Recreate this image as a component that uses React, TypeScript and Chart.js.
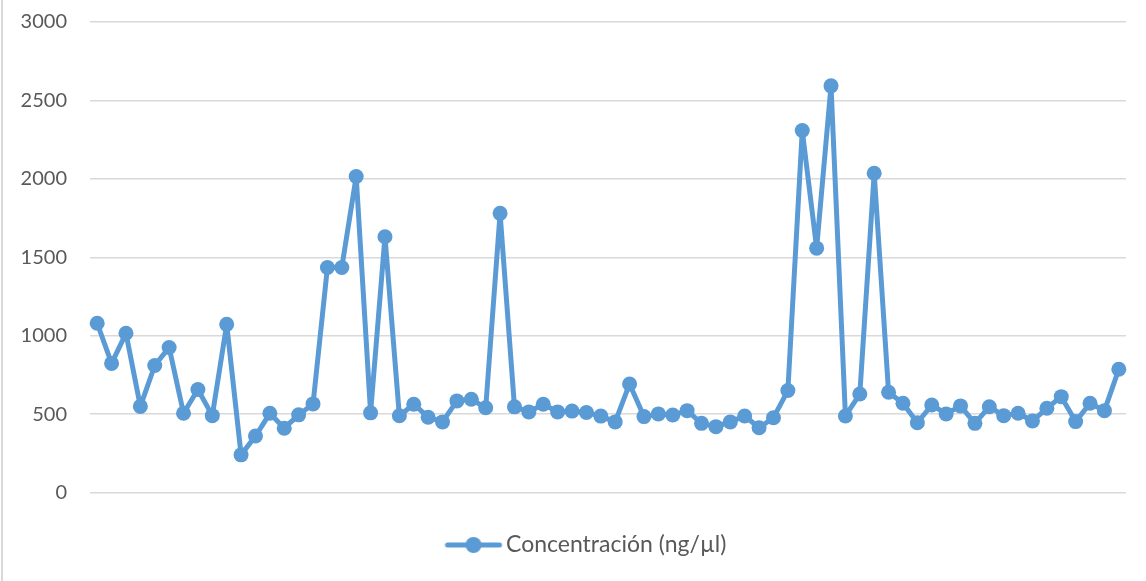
import React, { useEffect, useRef } from "react";
import { Chart, registerables } from "chart.js";

Chart.register(...registerables);

const samples: string[] = [
  "1", "2", "3", "4", "5", "6", "7", "8", "9", "10", "11", "12",
  "13", "14", "15", "16", "17", "18", "19", "20", "21", "22", "23", "24",
  "25", "26", "27", "28", "29", "30", "31", "32", "33", "34", "35", "36",
  "37", "38", "39", "40", "41", "42", "43", "44", "45", "46", "47", "48",
  "49", "50", "51", "52", "53", "54", "55", "56", "57", "58", "59", "60",
  "61", "62", "63", "64", "65", "66", "67", "68", "69", "70", "71", "72",
];

const concentracion: number[] = [
  1079, 823, 1015, 549, 810, 925, 505, 657, 490, 1072, 240, 360,
  505, 410, 495, 565, 1435, 1435, 2015, 508, 1631, 489, 563, 480,
  450, 584, 595, 540, 1780, 546, 514, 563, 514, 519, 510, 487,
  450, 692, 484, 501, 494, 522, 441, 420, 450, 488, 413, 477,
  650, 2308, 1558, 2593, 488, 628, 2036, 639, 569, 445, 558, 501,
  552, 441, 547, 490, 505, 456, 537, 611, 452, 569, 522, 786,
];

const seriesName = "Concentración (ng/µl)";
const yTicksMin = 0;
const yTicksMax = 3000;
const yTicksStep = 500;

const BLUE = "#5B9BD5";
const FONT = "Lato, 'Open Sans', sans-serif";
const LEGEND_SIZE = 23;

export default function App() {
  const canvasRef = useRef<HTMLCanvasElement | null>(null);

  useEffect(() => {
    const canvas = canvasRef.current;
    if (!canvas) return;

    // legend layout: glyph centre at 473.5, text starting at 506
    const mc = document.createElement("canvas").getContext("2d");
    let textW = 221;
    if (mc) {
      mc.font = `${LEGEND_SIZE}px ${FONT}`;
      textW = mc.measureText(seriesName).width;
    }
    const half = LEGEND_SIZE / 2;
    const legendL = 0;
    const legendR = 1126;
    const boxW = 2 * 506 - legendL - legendR - half + textW;
    const imgCenter = (legendL + legendR - half - textW) / 2;
    const off = 473.5 - imgCenter;

    const marker = document.createElement("canvas");
    const W = Math.ceil(2 * (Math.abs(off) + 30));
    marker.width = W;
    marker.height = 18;
    const mctx = marker.getContext("2d");
    if (mctx) {
      const cx = W / 2 + off;
      mctx.strokeStyle = BLUE;
      mctx.lineWidth = 5;
      mctx.lineCap = "round";
      mctx.beginPath();
      mctx.moveTo(cx - 26, 9);
      mctx.lineTo(cx + 26, 9);
      mctx.stroke();
      mctx.fillStyle = BLUE;
      mctx.beginPath();
      mctx.arc(cx, 9, 8, 0, Math.PI * 2);
      mctx.fill();
    }

    const chart = new Chart(canvas, {
      type: "line",
      data: {
        labels: samples,
        datasets: [
          {
            label: seriesName,
            data: concentracion,
            borderColor: BLUE,
            backgroundColor: BLUE,
            borderWidth: 5,
            borderJoinStyle: "round",
            pointRadius: 7.5,
            pointBackgroundColor: BLUE,
            pointBorderColor: BLUE,
            pointBorderWidth: 0,
            tension: 0,
          },
        ],
      },
      options: {
        responsive: false,
        animation: false,
        layout: { padding: { left: 0, right: 20, top: 22, bottom: 14.5 } },
        plugins: {
          tooltip: { enabled: false },
          legend: {
            position: "bottom",
            labels: {
              usePointStyle: true,
              pointStyle: marker as any,
              pointStyleWidth: boxW,
              boxHeight: 20,
              padding: 10,
              color: "#595959",
              font: { size: LEGEND_SIZE, family: FONT },
            },
          },
        },
        scales: {
          x: {
            type: "category",
            offset: true,
            grid: { display: false },
            border: { display: false },
            ticks: { display: false },
            afterFit: (s: any) => {
              s.height = 31;
            },
          },
          y: {
            min: yTicksMin,
            max: yTicksMax,
            ticks: {
              stepSize: yTicksStep,
              padding: 3,
              color: "#595959",
              font: { size: 20, family: FONT },
              callback: (v: any) => String(v),
            },
            grid: {
              color: "#d9d9d9",
              lineWidth: 1.5,
              drawTicks: true,
              tickLength: 20,
              tickColor: "rgba(0,0,0,0)",
            },
            border: { display: false },
            afterFit: (s: any) => {
              s.width = 90;
            },
          },
        },
      },
    });

    return () => chart.destroy();
  }, []);

  return (
    <div style={{ position: "absolute", left: 0, top: 0, width: 1146, height: 581, background: "#fff" }}>
      <div style={{ position: "absolute", left: 1, top: 0, width: 2, height: 581, background: "#d9d9d9" }} />
      <canvas ref={canvasRef} width={1146} height={581} style={{ position: "absolute", left: 0, top: 0 }} />
    </div>
  );
}
